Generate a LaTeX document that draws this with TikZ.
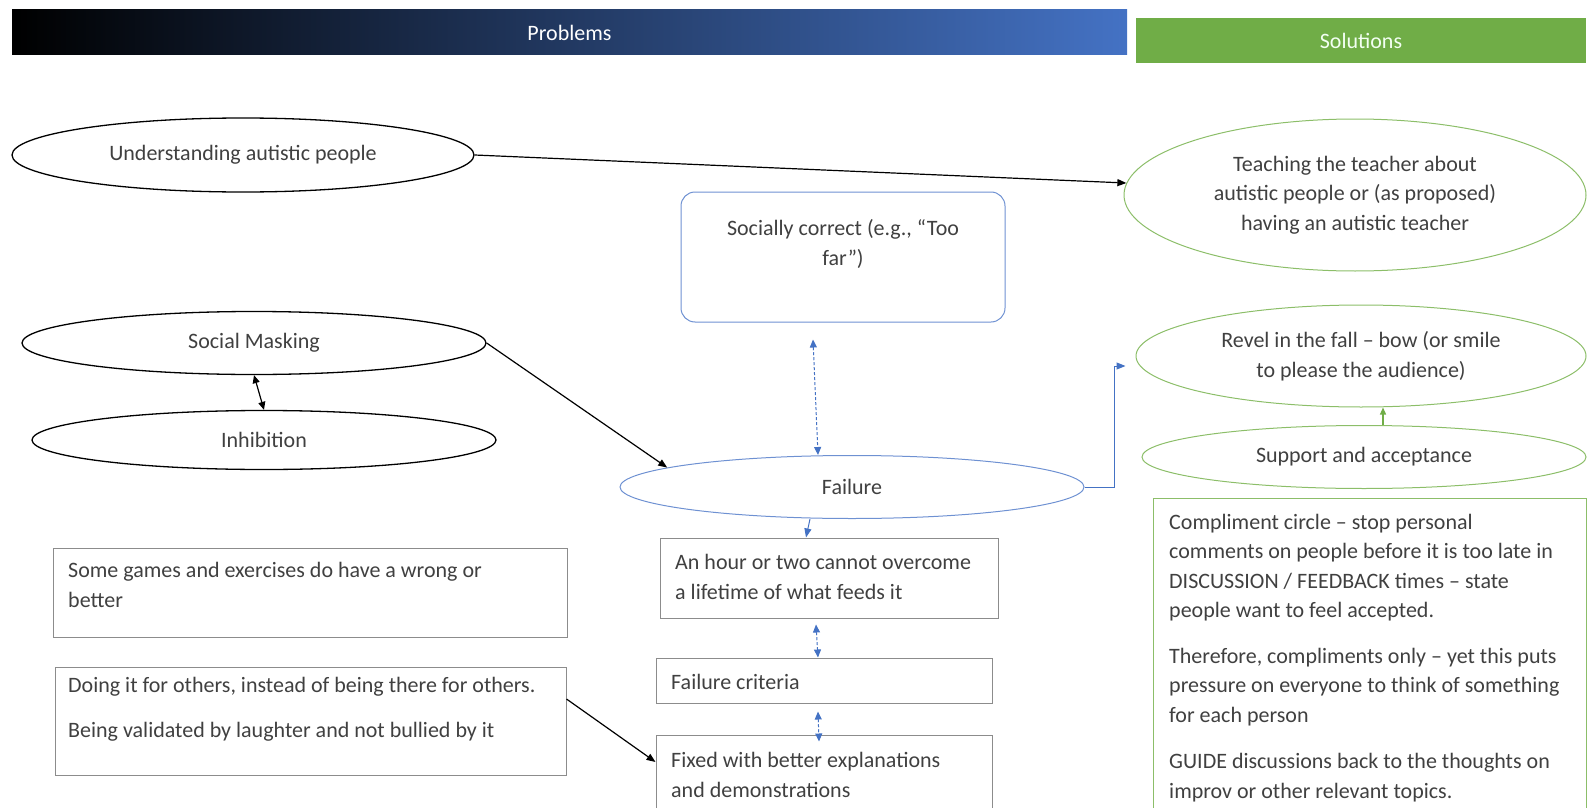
\documentclass[tikz,border=0pt]{standalone}
\usepackage{fontspec}
\setmainfont{Carlito}
\usetikzlibrary{shapes.geometric,arrows.meta,calc}
\definecolor{ublue}{RGB}{68,114,196}
\definecolor{lblue}{RGB}{110,145,210}
\definecolor{ugreen}{RGB}{112,173,71}
\definecolor{lgreen}{RGB}{140,190,105}
\definecolor{txtc}{RGB}{64,64,64}
\begin{document}
\begin{tikzpicture}[x=1pt,y=-1pt,
  every node/.style={font=\fontsize{22}{29.5}\selectfont, text=txtc},
  bell/.style={ellipse, draw=black, line width=1.3pt, inner sep=0pt, align=center},
  gell/.style={ellipse, draw=lgreen, line width=1pt, inner sep=0pt, align=center},
  gbox/.style={draw=black!45, line width=1pt, inner sep=0pt},
  txtl/.style={align=left, inner sep=0pt},
  barrow/.style={draw=black, line width=1.2pt, -{Triangle[length=9pt,width=7pt]}},
  bdbl/.style={draw=black, line width=1.2pt, {Triangle[length=8pt,width=7pt]}-{Triangle[length=8pt,width=7pt]}},
  blarrow/.style={draw=ublue, line width=1pt, -{Triangle[length=9pt,width=7pt]}},
  garrow/.style={draw=ugreen, line width=1.2pt, -{Triangle[length=7pt,width=6pt]}},
  bdash/.style={draw=ublue, line width=1pt, dash pattern=on 3pt off 2pt, {Triangle[length=8pt,width=7pt]}-{Triangle[length=8pt,width=7pt]}}
]
\useasboundingbox (0,0) rectangle (1588,808);
\clip (0,0) rectangle (1588,808);

% header bars
\node[minimum width=1115pt, minimum height=45pt, inner sep=0pt, left color=black, right color=ublue, text=white] (pbar) at (569.5,32.5) {Problems};
\node[minimum width=450pt, minimum height=45pt, inner sep=0pt, fill=ugreen, text=white!95!green] (sbar) at (1361,40.5) {Solutions};

% problem ellipses
\node[bell, minimum width=462pt, minimum height=74pt] (U) at (243,155) {Understanding autistic people};
\node[bell, minimum width=464pt, minimum height=63pt] (SM) at (254,343) {Social Masking};
\node[bell, minimum width=464pt, minimum height=59pt] (IN) at (264,440) {Inhibition};

% middle column
\node[draw=lblue, line width=1pt, rounded corners=14pt, minimum width=324pt, minimum height=130pt, inner sep=0pt] (soc) at (843,257) {};
\node[align=center, inner sep=0pt] (socT) at (843,244) {Socially correct (e.g., “Too\\far”)};
\node[ellipse, draw=lblue, line width=1pt, minimum width=464pt, minimum height=63pt, inner sep=0pt] (F) at (852,487) {Failure};

\node[gbox, minimum width=338pt, minimum height=80pt] (H) at (829,578) {};
\node[txtl, anchor=west] (HT) at (675,577) {An hour or two cannot overcome\\a lifetime of what feeds it};
\node[gbox, minimum width=336pt, minimum height=45pt] (FC) at (824,680.5) {};
\node[txtl, anchor=west] (FCT) at (671,682) {Failure criteria};
\node[gbox, minimum width=336pt, minimum height=80pt] (FX) at (824,775) {};
\node[txtl, anchor=west] (FXT) at (671,775) {Fixed with better explanations\\and demonstrations};

% left boxes
\node[gbox, minimum width=514pt, minimum height=89pt] (SG) at (310,592.5) {};
\node[txtl, anchor=west] (SGT) at (68,585) {Some games and exercises do have a wrong or\\better};
\node[gbox, minimum width=511pt, minimum height=108pt] (D) at (310.5,721) {};
\node[txtl, anchor=north west] (DT) at (68,677) {Doing it for others, instead of being there for others.\\[16pt]Being validated by laughter and not bullied by it};

% solutions
\node[gell, minimum width=462pt, minimum height=152pt] (T) at (1355,195) {Teaching the teacher about\\autistic people or (as proposed)\\having an autistic teacher};
\node[gell, minimum width=450pt, minimum height=102pt] (R) at (1361,356) {Revel in the fall – bow (or smile\\to please the audience)};
\node[gell, minimum width=444pt, minimum height=63pt] (S) at (1364,457) {Support and acceptance};
\node[draw=lgreen, line width=1pt, minimum width=433pt, minimum height=317pt, inner sep=0pt] (CB) at (1369.5,656.5) {};
\node[txtl, anchor=north west] (CBT) at (1169,514) {Compliment circle – stop personal\\comments on people before it is too late in\\DISCUSSION / FEEDBACK times – state\\people want to feel accepted.\\[16pt]Therefore, compliments only – yet this puts\\pressure on everyone to think of something\\for each person\\[17pt]GUIDE discussions back to the thoughts on\\improv or other relevant topics.};

% connectors
\draw[barrow] (U.east) -- (T.177);
\draw[bdbl] (SM.south) -- (IN.north);
\draw[barrow] (SM.east) -- (F.174);
\draw[bdash] ($(soc.south)+(-30,17)$) -- ($(F.north)+(-34,0)$);
\draw[blarrow] (F.east) -- ++(30,0) |- ($(R.west)+(-10,10)$);
\draw[garrow] ($(S.north)+(19,0)$) -- ($(R.south)+(22,0)$);
\draw[blarrow] ($(F.south)+(-42,0)$) -- ($(H.north)+(-23,0)$);
\draw[bdash] ($(H.south)+(-13,6)$) -- ($(FC.north)+(-6,0)$);
\draw[bdash] ($(FC.south)+(-6,8)$) -- ($(FX.north)+(-5,7)$);
\draw[barrow] ($(D.east)+(0,-22)$) -- ($(FX.west)+(0,-13)$);
\end{tikzpicture}
\end{document}
